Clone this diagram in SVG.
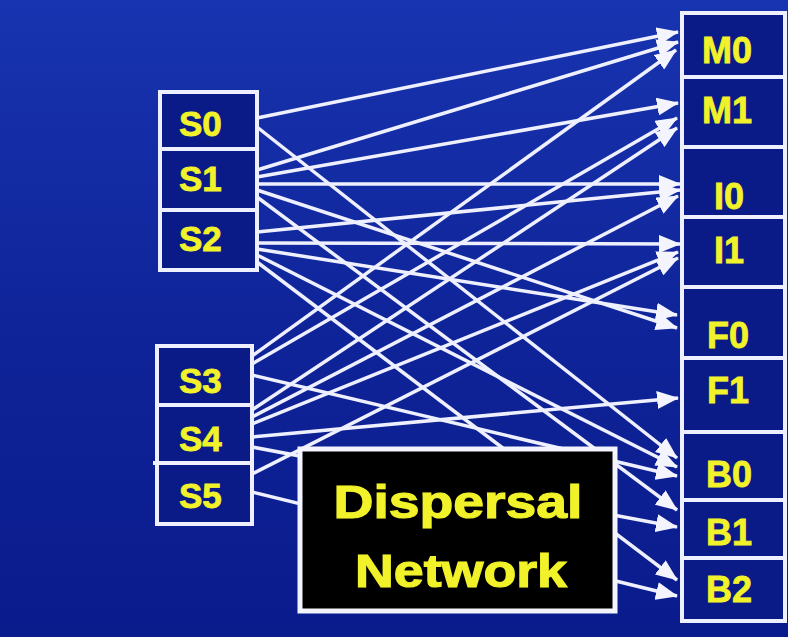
<svg xmlns="http://www.w3.org/2000/svg" width="788" height="637" viewBox="0 0 788 637">
  <defs>
    <linearGradient id="bg" x1="0" y1="0" x2="0" y2="1">
      <stop offset="0" stop-color="#1834b0"/>
      <stop offset="0.5" stop-color="#0f2499"/>
      <stop offset="1" stop-color="#0a1b8c"/>
    </linearGradient>
    <marker id="arrow" markerUnits="userSpaceOnUse" markerWidth="23" markerHeight="18" refX="21" refY="9" orient="auto">
      <path d="M0,0 L22,9 L0,18 z" fill="#f4f4ff"/>
    </marker>
    <style>
      .cell { fill: #0a1a86; stroke: #eef0ff; stroke-width: 4; }
      .lbl { font-family: "Liberation Sans", Arial, sans-serif; font-weight: bold; fill: #f2f22a; stroke: #f2f22a; stroke-width: 0.8; }
      .src { font-size: 35px; }
      .dst { font-size: 36px; }
      .wire { stroke: #eef0ff; stroke-width: 3.5; fill: none; marker-end: url(#arrow); }
      .big { font-size: 47px; text-anchor: middle; stroke-width: 1.2; }
    </style>
  </defs>

  <rect x="0" y="0" width="788" height="637" fill="url(#bg)"/>

  <!-- wires from the issue slots to the execution ports -->
  <g id="connectors">
    <line class="wire" x1="257" y1="118" x2="678" y2="32"/>
    <line class="wire" x1="257" y1="127" x2="677" y2="458"/>
    <line class="wire" x1="257" y1="170" x2="678" y2="42"/>
    <line class="wire" x1="257" y1="177" x2="678" y2="103"/>
    <line class="wire" x1="257" y1="184" x2="680" y2="184"/>
    <line class="wire" x1="257" y1="190" x2="677" y2="328"/>
    <line class="wire" x1="257" y1="197" x2="677" y2="510"/>
    <line class="wire" x1="257" y1="232" x2="680" y2="190"/>
    <line class="wire" x1="257" y1="243" x2="680" y2="244"/>
    <line class="wire" x1="257" y1="249" x2="677" y2="315"/>
    <line class="wire" x1="257" y1="255" x2="677" y2="467"/>
    <line class="wire" x1="257" y1="262" x2="677" y2="580"/>
    <line class="wire" x1="252" y1="356" x2="676" y2="50"/>
    <line class="wire" x1="252" y1="364" x2="677" y2="118"/>
    <line class="wire" x1="252" y1="375" x2="677" y2="476"/>
    <line class="wire" x1="252" y1="410" x2="677" y2="128"/>
    <line class="wire" x1="252" y1="417" x2="678" y2="196"/>
    <line class="wire" x1="252" y1="424" x2="678" y2="252"/>
    <line class="wire" x1="252" y1="437" x2="678" y2="398"/>
    <line class="wire" x1="252" y1="447" x2="677" y2="527"/>
    <line class="wire" x1="252" y1="474" x2="678" y2="258"/>
    <line class="wire" x1="252" y1="492" x2="677" y2="596"/>
  </g>

  <!-- issue slots, first bundle -->
  <g id="S0"><rect class="cell" x="160" y="92" width="97" height="57"/><text class="lbl src" x="179" y="136">S0</text></g>
  <g id="S1"><rect class="cell" x="160" y="149" width="97" height="61"/><text class="lbl src" x="179" y="191">S1</text></g>
  <g id="S2"><rect class="cell" x="160" y="210" width="97" height="60"/><text class="lbl src" x="179" y="251">S2</text></g>

  <!-- issue slots, second bundle -->
  <g id="S3"><rect class="cell" x="157" y="346" width="95" height="59"/><text class="lbl src" x="179" y="393">S3</text></g>
  <g id="S4"><rect class="cell" x="157" y="405" width="95" height="58"/><text class="lbl src" x="179" y="451">S4</text></g>
  <g id="S5"><rect class="cell" x="157" y="463" width="95" height="61"/><text class="lbl src" x="179" y="508">S5</text>
    <line x1="153" y1="463" x2="157" y2="463" stroke="#eef0ff" stroke-width="4"/></g>

  <!-- execution ports -->
  <g id="M0"><rect class="cell" x="682" y="13" width="103" height="64"/><text class="lbl dst" x="702" y="63">M0</text></g>
  <g id="M1"><rect class="cell" x="682" y="77" width="103" height="70"/><text class="lbl dst" x="702" y="123">M1</text></g>
  <g id="I0"><rect class="cell" x="682" y="147" width="103" height="70"/><text class="lbl dst" x="714" y="209">I0</text></g>
  <g id="I1"><rect class="cell" x="682" y="217" width="103" height="70"/><text class="lbl dst" x="714" y="263">I1</text></g>
  <g id="F0"><rect class="cell" x="682" y="287" width="103" height="71"/><text class="lbl dst" x="707" y="348">F0</text></g>
  <g id="F1"><rect class="cell" x="682" y="358" width="103" height="74"/><text class="lbl dst" x="707" y="403">F1</text></g>
  <g id="B0"><rect class="cell" x="682" y="432" width="103" height="68"/><text class="lbl dst" x="706" y="487">B0</text></g>
  <g id="B1"><rect class="cell" x="682" y="500" width="103" height="58"/><text class="lbl dst" x="706" y="545">B1</text></g>
  <g id="B2"><rect class="cell" x="682" y="558" width="103" height="63"/><text class="lbl dst" x="706" y="602">B2</text></g>

  <!-- the network block covering the crossing wires -->
  <g id="dispersal">
    <rect x="300" y="449" width="315" height="162" fill="#000000" stroke="#f4f4ff" stroke-width="5"/>
    <text class="lbl big" x="458" y="518" textLength="249" lengthAdjust="spacingAndGlyphs">Dispersal</text>
    <text class="lbl big" x="461" y="587" textLength="212" lengthAdjust="spacingAndGlyphs">Network</text>
  </g>
</svg>
